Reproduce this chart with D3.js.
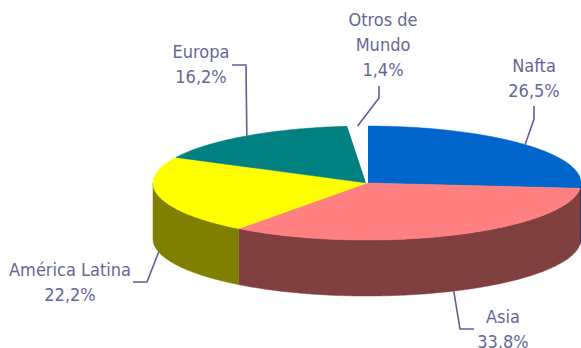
<!DOCTYPE html>
<html>
<head>
<meta charset="utf-8">
<script src="https://cdn.jsdelivr.net/npm/d3@7"></script>
<style>
  html, body { margin: 0; padding: 0; background: #fff; }
  svg { display: block; }
  text { font-family: "DejaVu Sans Condensed", "DejaVu Sans", sans-serif; font-size: 18px; fill: #666699; }
</style>
</head>
<body>
<svg id="chart" width="581" height="348"></svg>
<script>
// Regions and their share of the total
const categories = ["Nafta", "Asia", "América Latina", "Europa", "Otros de Mundo"];
const values = [26.5, 33.8, 22.2, 16.2, 1.4];
const valueLabels = ["26,5%", "33.8%", "22,2%", "16,2%", "1,4%"];
const nameLines = [["Nafta"], ["Asia"], ["América Latina"], ["Europa"], ["Otros de", "Mundo"]];
const topColors = ["#0066CC", "#FF8080", "#FFFF00", "#008080", "#FFFFFF"];
const sideColors = ["#003366", "#804040", "#808000", "#004040", "#FFFFFF"];

// Ellipse geometry of the tilted pie
const cx = 367, cy = 183, rx = 214, ry = 57, depth = 56;

// Label placement: text centre, first baseline, leader elbow and end
const labelLayout = [
  { x: 534, y: 72,  elbow: [534, 119], end: [534, 106], onSide: false },
  { x: 503, y: 323, elbow: [460, 329], end: [474, 329], onSide: true },
  { x: 70,  y: 276, elbow: [147, 282], end: [133, 282], onSide: true },
  { x: 201, y: 58,  elbow: [246, 65],  end: [232, 65],  onSide: false },
  { x: 383, y: 26,  elbow: [379, 98],  end: [379, 86],  onSide: false }
];
const lineHeight = 25;

const svg = d3.select("#chart");

const pie = d3.pie().sort(null).value(d => d)
  .startAngle(0).endAngle(2 * Math.PI);
const arcs = pie(values);

// angle measured clockwise from 12 o'clock
const px = a => cx + rx * Math.sin(a);
const py = a => cy - ry * Math.cos(a);

function samples(a0, a1) {
  const n = Math.max(2, Math.ceil(Math.abs(a1 - a0) / 0.01));
  return d3.range(n + 1).map(i => a0 + (a1 - a0) * i / n);
}

const line = d3.line();

// Side walls: only the front half (angles between PI/2 and 3PI/2) is visible
const sides = svg.append("g");
arcs.forEach((d, i) => {
  const a0 = Math.max(d.startAngle, Math.PI / 2);
  const a1 = Math.min(d.endAngle, 3 * Math.PI / 2);
  if (a1 <= a0) return;
  const top = samples(a0, a1).map(a => [px(a), py(a)]);
  const bottom = samples(a1, a0).map(a => [px(a), py(a) + depth]);
  sides.append("path")
    .attr("d", line(top.concat(bottom)) + "Z")
    .attr("fill", sideColors[i])
    .attr("stroke", sideColors[i])
    .attr("stroke-width", 0.5);
});

// Top faces
const tops = svg.append("g");
arcs.forEach((d, i) => {
  const pts = [[cx, cy]].concat(samples(d.startAngle, d.endAngle).map(a => [px(a), py(a)]));
  tops.append("path")
    .attr("d", line(pts) + "Z")
    .attr("fill", topColors[i])
    .attr("stroke", i === 4 ? "#FFFFFF" : topColors[i])
    .attr("stroke-width", i === 4 ? 2 : 0.5);
});

// Leader lines and labels
const labels = svg.append("g");
arcs.forEach((d, i) => {
  const mid = (d.startAngle + d.endAngle) / 2;
  const L = labelLayout[i];
  const anchor = [px(mid), py(mid) + (L.onSide ? depth : 0)];
  labels.append("path")
    .attr("d", line([anchor, L.elbow, L.end]))
    .attr("fill", "none")
    .attr("stroke", "#5F5F9A")
    .attr("stroke-width", 1.6);

  const t = labels.append("text").attr("text-anchor", "middle");
  nameLines[i].concat([valueLabels[i]]).forEach((s, k) => {
    t.append("tspan").attr("x", L.x).attr("y", L.y + k * lineHeight).text(s);
  });
});
</script>
</body>
</html>
